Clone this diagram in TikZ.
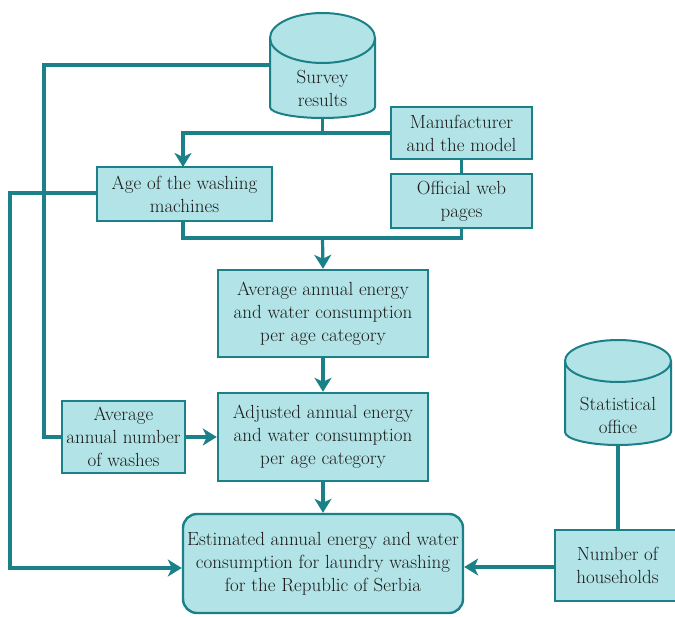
\documentclass[tikz,border=0pt]{standalone}
\usepackage{fontspec}
\usetikzlibrary{arrows.meta,calc}
\definecolor{edge}{HTML}{1B8088}
\definecolor{boxfill}{HTML}{B2E3E6}
\definecolor{txt}{HTML}{1A1A1A}
\begin{document}
\begin{tikzpicture}[x=1pt,y=-1pt,
  box/.style={draw=edge,fill=boxfill,line width=2.4pt,align=center,text=txt,inner sep=2pt,
    font=\fontsize{19}{23}\selectfont},
  lbl/.style={align=center,text=txt,inner sep=0pt,font=\fontsize{19}{23}\selectfont},
  conn/.style={draw=edge,line width=3.2pt},
  arr/.style={conn,-{Stealth[length=14pt,width=17pt,inset=4pt]}},
  cyl/.style={draw=edge,fill=boxfill,line width=2pt}]
\useasboundingbox (0,0) rectangle (675,617);
\clip (0,0) rectangle (675,617);
% cylinders
\path[cyl] (270,38) -- (270,107) arc[start angle=180,end angle=360,x radius=52.5pt,y radius=11pt]
  -- (375,38) arc[start angle=0,end angle=180,x radius=52.5pt,y radius=25pt] -- cycle;
\draw[edge,line width=2pt] (270,38) arc[start angle=180,end angle=360,x radius=52.5pt,y radius=25pt];
\node[lbl] (survey) at (322.5,88) {Survey\\results};
\coordinate (svL) at (270,65);
\coordinate (svB) at (322.5,118);
\path[cyl] (565,361) -- (565,432) arc[start angle=180,end angle=360,x radius=53pt,y radius=13pt]
  -- (671,361) arc[start angle=0,end angle=180,x radius=53pt,y radius=21pt] -- cycle;
\draw[edge,line width=2pt] (565,361) arc[start angle=180,end angle=360,x radius=53pt,y radius=21pt];
\node[lbl] (stat) at (618,415) {Statistical\\office};
\coordinate (stB) at (618,445);
% boxes
\node[box,minimum width=175pt,minimum height=54pt] (age) at (184.5,194) {Age of the washing\\machines};
\node[box,minimum width=141pt,minimum height=52pt] (man) at (461.5,133) {Manufacturer\\and the model};
\node[box,minimum width=141pt,minimum height=54pt] (off) at (461.5,201) {Official web\\pages};
\node[box,minimum width=210pt,minimum height=87pt] (avg) at (323,313.5) {Average annual energy\\and water consumption\\per age category};
\node[box,minimum width=210pt,minimum height=88pt] (adj) at (323,437) {Adjusted annual energy\\and water consumption\\per age category};
\node[box,minimum width=123pt,minimum height=72pt,inner sep=0pt] (wash) at (123.5,437) {Average\\annual number\\of washes};
\node[box,rounded corners=14pt,minimum width=280pt,minimum height=99pt,inner sep=0pt] (est) at (323,563.5) {Estimated annual energy and water\\consumption for laundry washing\\for the Republic of Serbia};
\node[box,minimum width=125pt,minimum height=71pt] (num) at (617.5,565.5) {Number of\\households};
% connectors
\draw[conn] (svL) -- (44,65) |- (wash.west);
\coordinate (j1) at (322.5,133);
\draw[conn] (svB) -- (j1) -- (man.west |- j1);
\draw[arr] (j1) -- (183,133) -- (183,167);
\draw[arr] (age.west |- 0,193) -- (10,193) |- (est.west |- 0,568);
\coordinate (j2) at (322.5,238);
\draw[conn] (183,221) -- (183,238) -- (off.south |- j2) -- (off.south);
\draw[arr] (j2) -- (avg.north);
\draw[conn] (man.south) -- (off.north);
\draw[arr] (avg.south) -- (adj.north);
\draw[arr] (wash.east) -- (adj.west);
\draw[arr] (adj.south) -- (est.north);
\draw[conn] (stB) -- (stB |- num.north);
\draw[arr] (num.west |- 0,567) -- (est.east |- 0,567);
\end{tikzpicture}
\end{document}
